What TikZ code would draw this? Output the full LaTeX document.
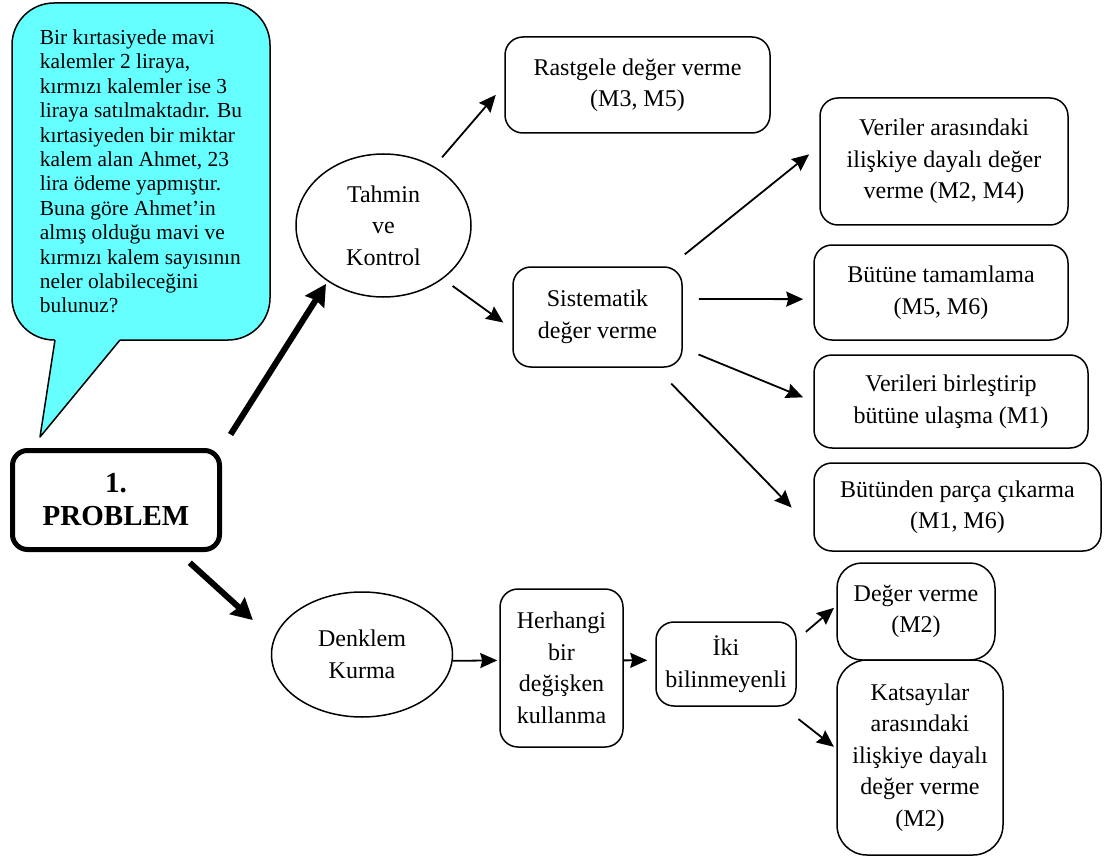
\documentclass[tikz,border=0pt]{standalone}
\usepackage{fontspec}
\setmainfont{Liberation Serif}
\usetikzlibrary{arrows.meta,shapes.geometric}
\definecolor{balon}{HTML}{66FFFF}
\begin{document}
\begin{tikzpicture}[x=1pt,y=-1pt,line join=round,
		font=\fontsize{24}{31.5}\selectfont,
		kutu/.style={draw,rounded corners=18pt,line width=1.5pt,align=center,inner sep=0pt},
		elips/.style={draw,ellipse,line width=1.5pt,align=center,inner sep=0pt},
		ok/.style={-{Stealth[length=17pt,width=15pt,inset=2pt]},line width=1.8pt},
		kalin/.style={-{Stealth[length=21pt,width=22pt,inset=2pt]},line width=6pt}]
	\useasboundingbox (0,0) rectangle (1104,856);
	% soru balonu
	\node[draw,fill=balon,line width=1.5pt,rounded corners=42pt,minimum width=258,minimum height=337,
		inner sep=0pt,align=left,font=\fontsize{21.4}{24.4}\selectfont] (soru) at (141,171.5)
		{Bir kırtasiyede mavi\\kalemler 2 liraya,\\kırmızı kalemler ise 3\\liraya satılmaktadır. Bu\\
		kırtasiyeden bir miktar\\kalem alan Ahmet, 23\\lira ödeme yapmıştır.\\Buna göre Ahmet’in\\
		almış olduğu mavi ve\\kırmızı kalem sayısının\\neler olabileceğini\\bulunuz?};
	\fill[balon] (55,335) -- (55,340) -- (40,437) -- (120,340) -- (120,335) -- cycle;
	\draw[line width=1.5pt] (55,340) -- (40,437) -- (120,340);
	% problem
	\node[draw,rounded corners=15pt,line width=5pt,minimum width=207,minimum height=99,inner sep=0pt,
		align=center,font=\fontsize{29}{33}\selectfont\bfseries] (problem) at (116,500) {1.\\PROBLEM};
	% yontemler
	\node[elips,minimum width=175,minimum height=143] (tahmin) at (383.5,225.5) {Tahmin\\ve\\Kontrol};
	\node[elips,minimum width=181,minimum height=125] (denklem) at (362,654.5) {Denklem\\Kurma};
	\node[kutu,minimum width=265,minimum height=96] (rastgele) at (637.5,85) {Rastgele değer verme\\(M3, M5)};
	\node[kutu,minimum width=169,minimum height=100] (sistematik) at (597.5,317) {Sistematik\\değer verme};
	\node[kutu,minimum width=248,minimum height=127] (veriler) at (944,161.5) {Veriler arasındaki\\ilişkiye dayalı değer\\verme (M2, M4)};
	\node[kutu,minimum width=254,minimum height=95] (butune) at (941,292.5) {Bütüne tamamlama\\(M5, M6)};
	\node[kutu,minimum width=274,minimum height=93] (birlestir) at (951,401.5) {Verileri birleştirip\\bütüne ulaşma (M1)};
	\node[kutu,minimum width=287,minimum height=88] (butunden) at (957.5,507) {Bütünden parça çıkarma\\(M1, M6)};
	\node[kutu,minimum width=123,minimum height=158] (herhangi) at (561.5,668) {Herhangi\\bir\\değişken\\kullanma};
	\node[kutu,minimum width=140,minimum height=84] (iki) at (726,664) {İki\\bilinmeyenli};
	\node[kutu,rounded corners=25pt,minimum width=158,minimum height=97] (deger) at (916,611.5) {Değer verme\\(M2)};
	\node[kutu,rounded corners=30pt,minimum width=166,minimum height=195] (katsayi) at (920,757.5) {Katsayılar\\arasındaki\\ilişkiye dayalı\\değer verme\\(M2)};
	% oklar
	\draw[kalin,shorten <=16pt,shorten >=3pt] (problem.north east) -- (tahmin.225);
	\draw[kalin,shorten <=16pt,shorten >=28pt] (problem.-40) -- (denklem.170);
	\foreach \a/\b/\s/\e in {tahmin/rastgele.west/12/13,tahmin.-42/sistematik.188/12/11,
		sistematik.35/veriler.173/19/13,sistematik.12/butune.183/16/10,
		sistematik.-20/birlestir.west/17/11,sistematik.-41/butunden.189/22/31,
		denklem.-4/herhangi.173/0/2,herhangi.7/iki.177/0/8,
		iki.19/deger.176/12/3,iki.-37/katsayi.174/20/3}{
		\draw[ok,shorten <=\s pt,shorten >=\e pt] (\a) -- (\b);}
\end{tikzpicture}
\end{document}
